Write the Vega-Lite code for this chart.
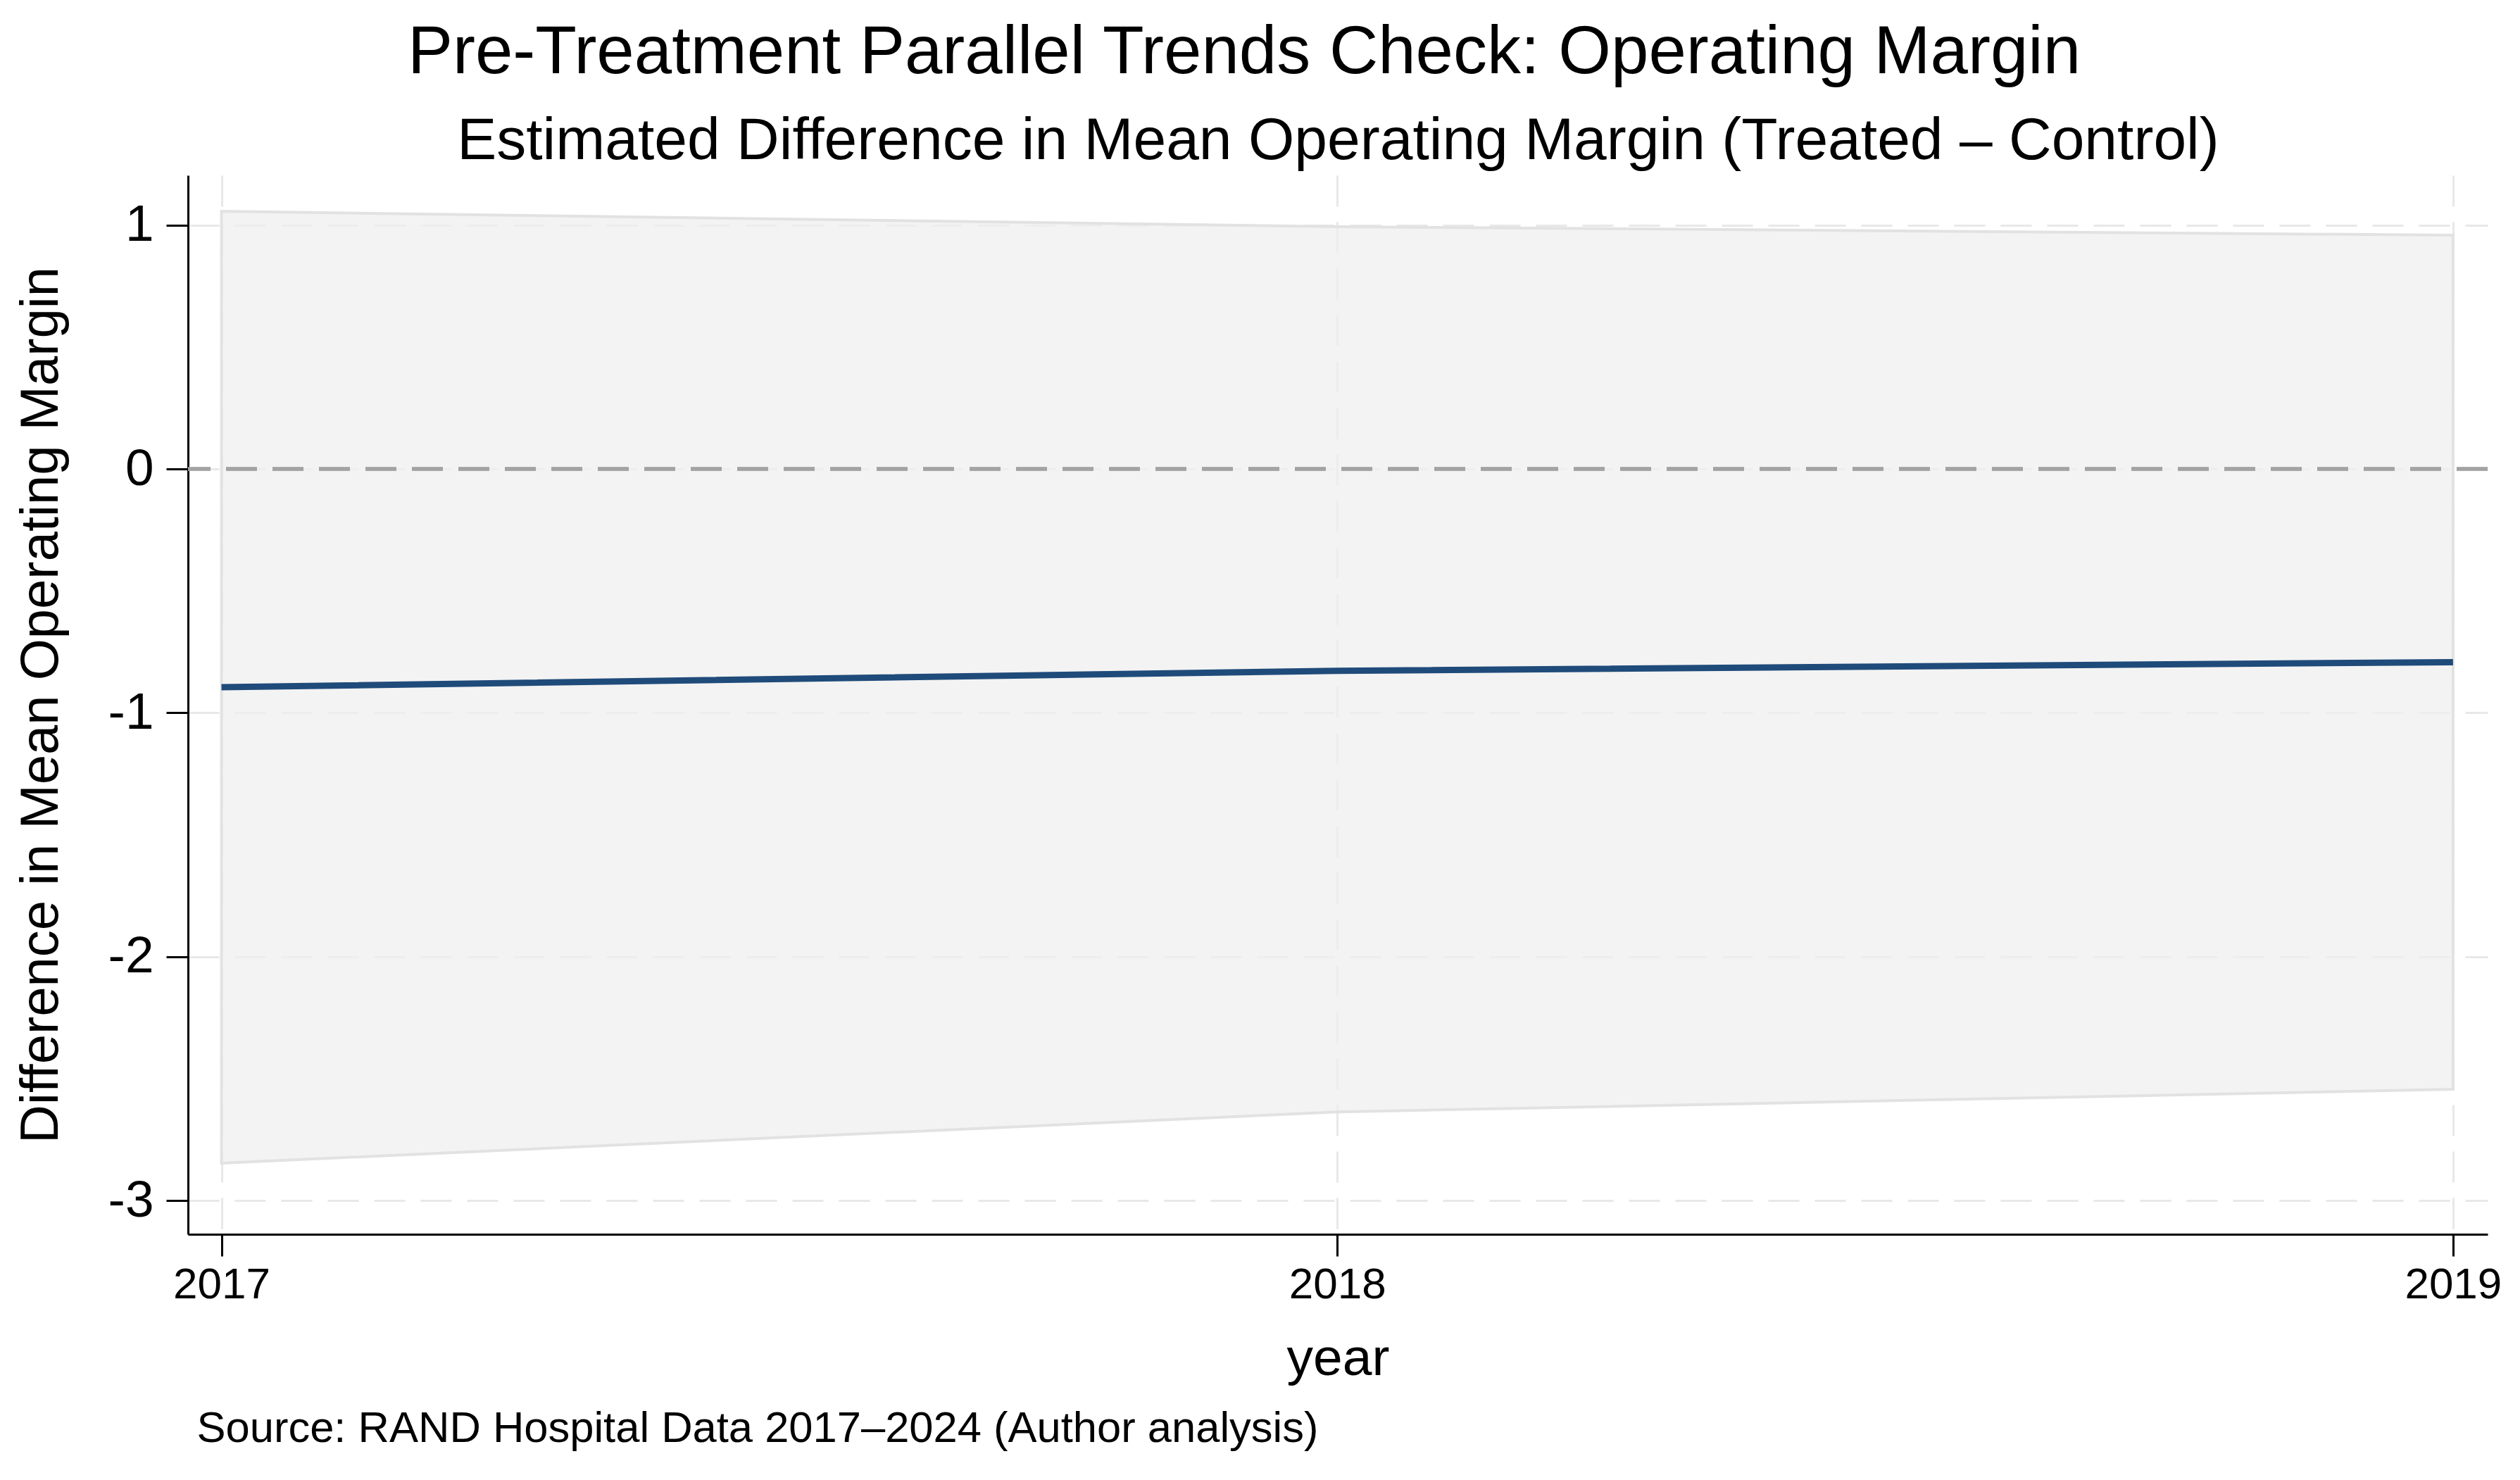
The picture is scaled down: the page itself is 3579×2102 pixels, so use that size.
{
  "$schema": "https://vega.github.io/schema/vega-lite/v6.json",
  "width": 3266,
  "height": 1504,
  "autosize": {"type": "none"},
  "padding": {"left": 267, "top": 249, "right": 46, "bottom": 349},
  "background": "white",
  "config": {
    "view": {"stroke": null},
    "font": "Liberation Sans",
    "axis": {
      "domainColor": "black",
      "domainWidth": 3,
      "tickColor": "black",
      "tickWidth": 3,
      "labelColor": "black",
      "titleColor": "black",
      "titleFontWeight": "normal",
      "labelFont": "Liberation Sans",
      "titleFont": "Liberation Sans"
    }
  },
  "title": {
    "text": "Pre-Treatment Parallel Trends Check: Operating Margin",
    "anchor": "middle",
    "frame": "group",
    "dx": -133,
    "fontSize": 96,
    "fontWeight": "normal",
    "color": "black",
    "offset": 34
  },
  "datasets": {
    "est": [
      {"year": 2017, "ci_lo": -2.847, "ci_hi": 1.057, "diff": -0.895},
      {"year": 2018, "ci_lo": -2.637, "ci_hi": 0.994, "diff": -0.828},
      {"year": 2019, "ci_lo": -2.544, "ci_hi": 0.959, "diff": -0.792}
    ]
  },
  "data": {"name": "est"},
  "resolve": {"axis": {"x": "independent", "y": "independent"}},
  "layer": [
    {
      "mark": {"type": "area", "fill": "#efefef", "fillOpacity": 0.75, "strokeWidth": 0},
      "encoding": {
        "x": {
          "field": "year",
          "type": "quantitative",
          "scale": {"domain": [2016.970, 2019.031], "nice": false, "zero": false},
          "axis": {
            "orient": "bottom",
            "values": [2017, 2018, 2019],
            "tickCount": 3,
            "labelExpr": "'' + datum.value",
            "title": "year",
            "titleFontSize": 75,
            "titlePadding": 38,
            "labelFontSize": 62,
            "labelPadding": 10,
            "tickSize": 31,
            "labelFlush": false,
            "labelOverlap": false,
            "grid": true,
            "gridColor": "#e8e8e8",
            "gridWidth": 3,
            "gridDash": [44, 22]
          }
        },
        "y": {
          "field": "ci_lo",
          "type": "quantitative",
          "scale": {"domain": [-3.1386, 1.2045], "nice": false, "zero": false},
          "axis": {
            "orient": "left",
            "values": [-3, -2, -1, 0, 1],
            "tickCount": 5,
            "labelExpr": "'' + datum.value",
            "title": "Difference in Mean Operating Margin",
            "titleFontSize": 76,
            "titlePadding": 56,
            "labelFontSize": 73,
            "labelPadding": 18,
            "tickSize": 31,
            "labelFlush": false,
            "labelOverlap": false,
            "grid": true,
            "gridColor": "#e8e8e8",
            "gridWidth": 3,
            "gridDash": [44, 22]
          }
        },
        "y2": {"field": "ci_hi"}
      }
    },
    {
      "mark": {"type": "area", "fill": "transparent", "stroke": "#e2e2e2", "strokeWidth": 4},
      "encoding": {
        "x": {
          "field": "year",
          "type": "quantitative",
          "axis": {
            "orient": "bottom",
            "domain": false,
            "ticks": false,
            "labels": false,
            "grid": false,
            "title": "Source: RAND Hospital Data 2017–2024 (Author analysis)",
            "titleFontSize": 61.5,
            "titleAnchor": "start",
            "titleAlign": "left",
            "titleX": 12,
            "titlePadding": 245
          }
        },
        "y": {"field": "ci_lo", "type": "quantitative", "axis": null},
        "y2": {"field": "ci_hi"}
      }
    },
    {
      "mark": {"type": "rule", "color": "#a3a3a3", "strokeWidth": 5, "strokeDash": [44, 22]},
      "encoding": {
        "y": {"datum": 0, "type": "quantitative", "axis": null}
      }
    },
    {
      "mark": {"type": "line", "color": "#1f4b7a", "strokeWidth": 9},
      "encoding": {
        "x": {
          "field": "year",
          "type": "quantitative",
          "axis": {
            "orient": "top",
            "domain": false,
            "ticks": false,
            "labels": false,
            "grid": false,
            "title": "Estimated Difference in Mean Operating Margin (Treated – Control)",
            "titleFontSize": 84,
            "titlePadding": 6
          }
        },
        "y": {"field": "diff", "type": "quantitative", "axis": null}
      }
    }
  ]
}
